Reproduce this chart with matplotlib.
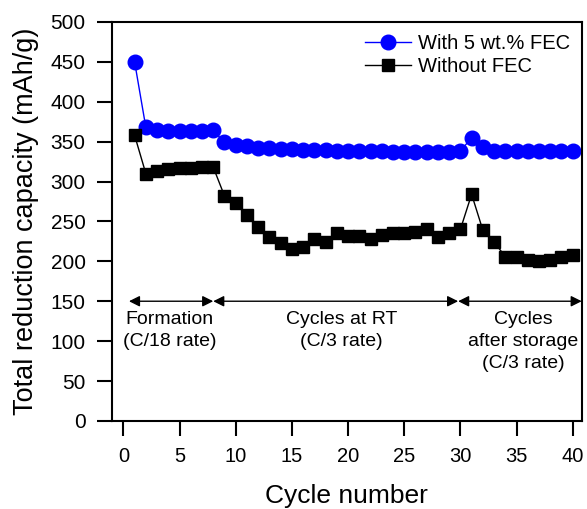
import matplotlib
matplotlib.use("Agg")
import matplotlib.pyplot as plt

plt.rcParams["font.family"] = ["Liberation Sans", "DejaVu Sans"]

cycles = list(range(1, 41))
with_fec = [450, 368, 365, 363, 363, 363, 363, 364, 349, 346,
            344, 342, 342, 341, 341, 340, 339, 339, 338, 338,
            338, 338, 338, 337, 337, 337, 337, 337, 337, 338,
            355, 343, 338, 338, 338, 338, 338, 338, 338, 338]
without_fec = [358, 310, 313, 316, 317, 317, 318, 318, 282, 273,
               258, 243, 230, 223, 215, 218, 228, 224, 235, 232,
               232, 228, 233, 235, 235, 237, 241, 231, 235, 240,
               284, 239, 224, 206, 206, 202, 200, 202, 205, 208]

# stage brackets: (start, end, label, label x)
stages = [
    (0.5, 8.0, "Formation\n(C/18 rate)", 4.1),
    (8.0, 29.8, "Cycles at RT\n(C/3 rate)", 19.4),
    (29.8, 40.8, "Cycles\nafter storage\n(C/3 rate)", 35.6),
]
stage_y = 150

fig = plt.figure(figsize=(5.87, 5.09), dpi=100)
ax = fig.add_axes([0.191, 0.173, 0.800, 0.784])

ax.plot(cycles, with_fec, color="#0000ff", lw=1.0, marker="o", ms=10.5,
        label="With 5 wt.% FEC")
ax.plot(cycles, without_fec, color="black", lw=1.0, marker="s", ms=8.5,
        label="Without FEC")

for x0, x1, text, tx in stages:
    ax.annotate("", xy=(x1, stage_y), xytext=(x0, stage_y),
                arrowprops=dict(arrowstyle="<|-|>", color="black", lw=1.0,
                                mutation_scale=16, shrinkA=0, shrinkB=0))
    ax.text(tx, stage_y - 12, text, ha="center", va="top", fontsize=14,
            linespacing=1.4)

ax.set_xlim(-1.0, 40.8)
ax.set_ylim(0, 500)
ax.set_xticks(range(0, 41, 5))
ax.set_yticks(range(0, 501, 50))
ax.tick_params(direction="out", length=11, width=1.5)
ax.tick_params(axis="x", labelsize=14.5, pad=8)
ax.tick_params(axis="y", labelsize=15, pad=8)
for s in ax.spines.values():
    s.set_linewidth(1.5)

ax.set_xlabel("Cycle number", fontsize=19, labelpad=13)
ax.set_ylabel("Total reduction capacity (mAh/g)", fontsize=19.5, labelpad=8)

ax.legend(loc="upper right", frameon=False, fontsize=14.5, handlelength=2.3,
          handletextpad=0.3, borderaxespad=0.2, labelspacing=0.2)

fig.savefig("out.png", dpi=100)
